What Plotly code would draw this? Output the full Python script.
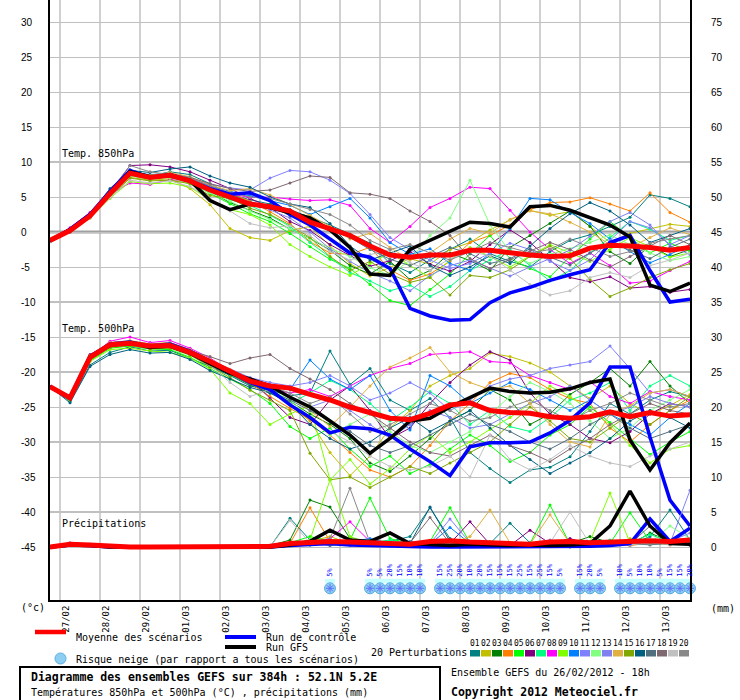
import plotly.graph_objects as go

# --- Data (12h steps) ---
HOURS = [0, 12, 24, 36, 48, 60, 72, 84, 96, 108, 120, 132, 144, 156, 168, 180, 192,
         204, 216, 228, 240, 252, 264, 276, 288, 300, 312, 324, 336, 348, 360, 372, 384]

DATES = ['27/02', '28/02', '29/02', '01/03', '02/03', '03/03', '04/03', '05/03',
         '06/03', '07/03', '08/03', '09/03', '10/03', '11/03', '12/03', '13/03']

LEFT_TICKS = [30, 25, 20, 15, 10, 5, 0, -5, -10, -15, -20, -25, -30, -35, -40, -45]
RIGHT_TICKS = [75, 70, 65, 60, 55, 50, 45, 40, 35, 30, 25, 20, 15, 10, 5, 0]

PERT_COLORS = ['#008080', '#c0c000', '#008000', '#ff8000', '#00ff00', '#800080', '#00ff80',
               '#ff00ff', '#80ff00', '#0080ff', '#8080ff', '#80ff80', '#8080f0', '#e0b040',
               '#80a800', '#006080', '#507080', '#806870', '#c0c0c0', '#888888']

T850_MEAN = [-1.2, 0.2, 2.3, 5.5, 8.4, 7.8, 8.1, 7.3, 6.0, 5.0, 4.0, 3.6, 3.0, 1.4, 0.4, -0.5, -2.0,
             -3.3, -3.6, -3.3, -3.3, -2.6, -2.6, -3.0, -3.3, -3.5, -3.4, -2.3, -1.9, -2.0, -2.2, -2.6, -2.2]
T850_CTRL = [-1.2, 0.4, 2.5, 5.8, 8.8, 7.8, 8.2, 7.3, 6.2, 5.4, 5.6, 4.5, 2.5, 1.0, -1.0, -3.0, -3.6,
             -5.2, -10.9, -12.0, -12.6, -12.5, -10.1, -8.7, -7.9, -6.9, -6.1, -5.4, -1.5, -0.5, -5.5, -10.0, -9.6]
T850_GFS = [-1.2, 0.3, 2.4, 5.5, 8.6, 7.9, 8.0, 7.4, 4.5, 3.2, 4.0, 3.5, 2.8, 2.0, 0.3, -2.2, -6.0,
            -6.2, -2.5, -1.2, 0.0, 1.4, 1.2, 0.7, 3.6, 3.8, 3.1, 2.0, 1.0, -0.7, -7.6, -8.5, -7.3]

T850_PERT = [
    [-1.3, 0.4, 2.6, 6.0, 8.9, 8.0, 8.6, 8.2, 6.9, 5.4, 4.6, 4.0, 3.2, 2.1, 1.0, -0.3, -1.6, -4.5, -5.8, -4.0, -2.5, -1.0, -3.1, -4.2, -5.0, -2.8, -1.2, -0.4, 0.8, 2.1, 5.3, 4.8, 3.6],
    [-1.2, 0.1, 2.0, 5.0, 7.8, 7.4, 7.6, 6.2, 3.9, 0.5, -0.8, -1.2, 0.2, 0.8, -2.0, -4.5, -6.3, -5.0, -3.8, -4.6, -2.5, -1.5, 0.3, 1.7, 3.1, 2.4, 2.9, 0.8, -1.5, -0.2, 0.5, 1.1, 0.8],
    [-1.1, 0.3, 2.4, 5.6, 8.2, 7.7, 8.0, 7.0, 5.8, 4.2, 3.1, 2.0, 0.4, -0.9, -2.6, -4.8, -6.0, -4.2, -6.8, -5.5, -3.0, -4.1, -5.5, -2.2, -0.5, 1.2, 3.0, 0.8, -2.8, -4.5, -1.9, -3.5, -2.5],
    [-1.2, 0.2, 2.3, 5.7, 8.5, 7.9, 8.3, 7.6, 6.3, 5.6, 4.4, 2.9, 1.2, -1.4, -3.0, -3.2, -2.2, -5.4, -6.9, -6.0, -4.2, -1.5, -0.5, 1.0, 3.2, 4.2, 4.3, 4.9, 4.0, 3.0, 5.6, 2.8, 1.4],
    [-1.2, 0.5, 2.7, 5.9, 8.7, 8.1, 8.2, 7.1, 5.5, 4.0, 2.6, 1.5, -0.2, -2.1, -3.9, -5.2, -7.5, -9.8, -10.5, -8.2, -6.0, -3.1, -0.5, -3.8, -5.2, -6.4, -3.5, -1.0, 1.5, -0.8, -3.0, -1.6, -2.8],
    [-1.3, 0.0, 2.1, 5.6, 9.5, 9.6, 9.3, 8.6, 7.4, 6.2, 4.8, 3.5, 1.5, 0.2, -1.8, -3.4, -4.9, -4.1, -2.8, -4.6, -5.6, -4.2, -1.8, 0.3, -1.5, -4.0, -6.5, -7.1, -6.4, -8.0, -7.8, -8.6, -8.2],
    [-1.2, 0.3, 2.5, 5.6, 8.3, 7.6, 8.0, 7.4, 6.0, 4.6, 3.8, 2.4, 0.8, -1.5, -3.6, -5.8, -7.0, -8.4, -7.6, -9.2, -7.8, -5.5, -4.0, -2.5, -4.8, -7.0, -5.5, -3.0, -0.8, 1.5, 0.4, -1.2, -0.5],
    [-1.2, 0.6, 2.8, 5.4, 7.0, 6.8, 7.5, 7.2, 6.6, 5.5, 4.9, 5.0, 4.7, 4.5, 4.6, 3.8, 0.5, -1.5, 0.8, 3.5, 4.8, 6.4, 6.2, 3.1, 0.0, -2.5, -4.5, -3.0, -4.8, -7.3, -7.0, -5.5, -4.2],
    [-1.0, 0.2, 2.0, 4.8, 7.2, 6.9, 7.0, 6.4, 4.6, 3.2, 2.5, 1.0, -1.8, -3.5, -5.0, -6.2, -4.5, -3.0, -4.8, -6.5, -4.0, -2.2, -3.5, -5.0, -3.4, -1.8, -3.0, -4.2, -2.5, -0.8, -2.1, -3.6, -3.0],
    [-1.2, 0.4, 2.4, 5.8, 8.6, 8.2, 8.4, 7.7, 6.5, 5.8, 5.2, 4.5, 3.8, 2.5, 3.6, 4.8, 2.0, -1.5, -3.2, -2.4, -4.5, -5.5, -3.0, 0.5, 4.8, 4.6, 2.8, 1.2, -1.0, -2.8, -4.4, -3.2, -1.8],
    [-1.2, 0.2, 2.2, 5.4, 8.2, 7.7, 7.9, 7.6, 6.8, 6.3, 6.0, 7.7, 8.8, 8.6, 7.4, 5.5, 2.5, -0.8, -2.5, -4.0, -5.2, -4.5, -3.0, -1.6, -2.5, -4.2, -5.5, -4.0, -1.2, 1.5, 0.6, -1.8, -0.5],
    [-1.3, 0.1, 2.2, 5.3, 8.0, 7.5, 7.8, 6.8, 5.6, 4.4, 3.0, 1.8, 0.4, -1.0, -2.3, -3.5, -5.1, -6.2, -4.0, -0.5, 2.0, 7.4, 1.0, -2.8, -4.5, -3.2, -2.4, -1.5, -0.4, -1.8, -3.0, -4.1, -3.5],
    [-1.2, 0.3, 2.5, 5.7, 8.5, 8.0, 8.1, 7.5, 6.3, 5.1, 4.3, 3.2, 2.0, 0.0, -2.4, -4.2, -5.8, -7.0, -8.4, -6.2, -4.8, -4.0, -5.2, -6.3, -5.0, -3.8, -2.6, -0.6, 1.5, 2.8, 1.0, -2.0, -3.2],
    [-1.2, 0.3, 2.4, 5.6, 8.6, 8.1, 8.5, 7.9, 6.7, 5.9, 6.2, 5.3, 3.9, 2.4, 0.8, -1.0, -0.2, -2.2, -4.0, -3.0, -1.0, 0.5, -0.2, 1.8, 3.0, 2.6, 1.4, 0.0, -1.8, -2.2, -0.8, 0.6, -0.4],
    [-1.2, 0.2, 2.1, 5.0, 7.7, 7.3, 7.4, 6.9, 5.2, 4.8, 3.4, 2.5, 1.0, -0.8, -3.5, -5.5, -4.2, -6.0, -7.2, -6.5, -9.0, -6.2, -6.5, -5.4, -3.5, -2.0, -3.8, -6.8, -9.2, -8.0, -6.5, -5.4, -4.5],
    [-1.2, 0.4, 2.6, 6.2, 8.8, 8.5, 9.0, 9.3, 8.0, 7.0, 6.4, 5.0, 4.0, 3.5, 1.2, -2.0, -4.0, -3.0, -2.0, -4.8, -6.2, -5.0, -3.4, -4.5, -2.0, 0.5, 2.6, 4.2, 3.0, 1.0, -1.5, -0.5, 0.5],
    [-1.2, 0.2, 2.3, 5.5, 8.3, 7.9, 8.2, 7.3, 6.2, 5.5, 4.2, 3.8, 2.3, 1.9, 0.5, -0.8, -2.5, -3.9, -4.8, -3.5, -2.2, -3.1, -4.5, -3.8, -2.4, -3.6, -4.7, -3.0, -1.5, -2.6, -3.8, -2.2, -1.0],
    [-1.2, 0.2, 2.3, 5.5, 8.4, 8.0, 8.3, 7.8, 6.9, 6.2, 5.8, 6.0, 7.0, 8.0, 7.8, 5.6, 5.4, 4.8, 3.0, 1.5, -0.5, -3.8, -5.2, -4.0, -2.8, -1.5, -2.5, -4.0, -5.0, -3.5, -2.0, -0.5, -1.8],
    [-1.2, 0.1, 2.0, 4.9, 7.4, 7.0, 7.3, 6.5, 4.8, 3.0, 1.2, 0.6, 0.9, -0.5, -2.8, -4.0, -3.2, -2.5, -4.4, -5.5, -3.8, -2.8, -3.4, -5.5, -7.5, -9.0, -8.4, -6.5, -5.8, -6.5, -4.8, -4.0, -3.0],
    [-1.4, 0.0, 2.4, 5.8, 9.5, 8.6, 8.2, 7.7, 6.6, 5.6, 5.0, 4.8, 4.0, 3.2, 2.5, 1.0, -1.2, -2.5, -1.8, -3.0, -4.0, -2.8, -1.5, -2.2, -3.0, -2.5, -1.0, -2.2, -3.5, -2.8, -1.6, -1.0, -0.5],
]

T500_MEAN = [-22.1, -23.7, -17.9, -16.1, -15.9, -16.3, -16.2, -17.2, -18.5, -20.0, -21.3, -22.0, -22.3, -23.2, -24.0, -25.0, -25.8,
             -26.6, -26.8, -25.9, -24.7, -24.4, -25.5, -25.8, -25.9, -26.4, -26.6, -26.4, -25.7, -26.4, -25.8, -26.3, -26.1]
T500_CTRL = [-22.1, -23.8, -17.8, -16.0, -15.7, -16.3, -16.0, -17.0, -18.5, -20.0, -21.5, -22.5, -24.7, -26.5, -28.7, -27.9, -28.1,
             -29.0, -31.0, -32.8, -34.8, -30.7, -30.1, -30.1, -30.0, -28.7, -26.9, -24.4, -19.3, -19.3, -29.3, -38.3, -42.0]
T500_GFS = [-22.1, -23.6, -17.8, -16.2, -15.8, -16.5, -16.3, -17.3, -18.8, -20.2, -21.0, -22.0, -23.6, -25.0, -27.0, -29.0, -31.6,
            -29.5, -27.0, -26.6, -25.0, -23.6, -22.3, -22.8, -23.0, -22.9, -22.4, -21.5, -21.0, -29.7, -34.0, -30.1, -27.3]

T500_PERT = [
    [-22.1, -24.2, -19.0, -17.2, -16.4, -17.0, -16.9, -18.0, -19.2, -20.5, -22.0, -22.6, -23.4, -23.0, -17.0, -21.8, -19.5, -24.0, -25.5, -23.8, -26.5, -31.5, -33.8, -35.8, -34.0, -33.6, -32.1, -28.5, -24.5, -26.0, -24.0, -22.8, -23.5],
    [-22.1, -23.5, -17.6, -15.8, -15.6, -16.0, -15.8, -16.8, -18.2, -19.8, -21.2, -22.5, -24.8, -27.0, -31.5, -34.8, -32.0, -28.0, -25.5, -22.0, -20.5, -19.5, -17.3, -17.8, -18.7, -20.0, -22.0, -23.8, -22.0, -24.5, -26.0, -24.8, -23.2],
    [-22.1, -23.9, -18.2, -16.4, -16.1, -16.6, -16.5, -17.5, -18.9, -20.4, -21.8, -23.0, -24.2, -26.0, -27.5, -29.5, -33.0, -34.2, -32.0, -29.5, -27.0, -25.5, -22.5, -24.0, -27.5, -26.0, -23.2, -21.5, -19.5, -22.0, -18.5, -22.0, -24.5],
    [-22.1, -23.6, -17.8, -16.0, -15.8, -16.2, -16.1, -17.1, -18.6, -20.2, -21.6, -23.5, -25.2, -26.8, -29.0, -31.5, -34.0, -35.0, -33.5, -30.5, -27.0, -24.5, -21.5, -20.2, -20.8, -22.5, -23.8, -24.5, -28.0, -30.0, -27.5, -25.5, -24.0],
    [-22.1, -24.0, -18.4, -16.6, -16.3, -16.7, -16.8, -17.9, -19.5, -21.0, -22.5, -24.5, -27.8, -29.5, -28.0, -31.0, -33.5, -32.0, -34.5, -33.2, -31.0, -29.0, -30.5, -32.8, -31.5, -29.0, -27.5, -25.0, -27.2, -29.5, -31.8, -30.0, -28.5],
    [-22.1, -23.4, -17.5, -15.9, -15.7, -16.2, -16.0, -17.0, -18.4, -20.0, -21.0, -23.8, -26.5, -27.5, -24.0, -22.0, -25.5, -29.5, -28.0, -24.5, -21.5, -19.0, -17.1, -18.3, -23.0, -26.0, -27.5, -29.5, -30.1, -28.5, -26.0, -24.5, -25.0],
    [-22.1, -23.8, -18.0, -16.3, -16.1, -16.5, -16.4, -17.4, -18.8, -20.4, -21.5, -22.8, -24.5, -23.0, -21.2, -22.5, -24.5, -27.0, -25.0, -22.8, -24.5, -27.5, -25.5, -27.8, -28.5, -26.5, -24.0, -23.0, -21.5, -25.5, -22.0, -20.5, -22.0],
    [-22.1, -23.7, -17.9, -15.6, -15.0, -15.8, -15.5, -16.6, -18.0, -19.8, -21.2, -22.4, -23.0, -22.5, -23.5, -22.0, -20.5, -19.5, -18.8, -17.5, -17.3, -17.1, -18.5, -18.7, -20.5, -21.5, -22.5, -21.4, -23.5, -24.5, -22.8, -23.5, -24.0],
    [-22.1, -24.1, -18.5, -16.8, -16.6, -17.0, -17.2, -18.0, -19.6, -23.0, -24.5, -27.5, -26.0, -24.8, -35.4, -32.5, -36.0, -33.8, -31.0, -29.0, -31.5, -30.0, -28.2, -26.5, -24.5, -22.0, -23.5, -25.5, -27.5, -30.5, -33.0, -31.0, -30.5],
    [-22.1, -23.6, -17.7, -15.9, -15.6, -16.0, -15.9, -16.9, -18.3, -19.8, -21.0, -21.8, -22.5, -18.3, -21.0, -22.5, -20.5, -25.5, -28.3, -20.5, -22.0, -24.5, -23.0, -21.5, -22.5, -24.0, -25.5, -24.0, -26.0, -27.5, -29.0, -26.5, -24.5],
    [-22.1, -23.7, -17.9, -16.0, -15.7, -16.1, -16.0, -17.0, -18.3, -19.6, -20.8, -21.5, -22.0, -21.5, -20.5, -22.0, -24.0, -23.0, -21.5, -23.0, -25.5, -24.0, -22.0, -21.0, -20.5, -19.5, -19.0, -18.5, -16.3, -19.5, -23.0, -22.5, -23.5],
    [-22.1, -23.8, -18.1, -16.2, -16.0, -16.4, -16.3, -17.3, -18.7, -20.2, -21.5, -22.5, -24.0, -26.5, -29.0, -27.5, -26.0, -28.5, -30.5, -31.5, -30.0, -28.5, -26.0, -23.5, -21.5, -22.8, -24.5, -27.0, -29.5, -28.0, -25.5, -24.0, -22.5],
    [-22.1, -23.6, -17.8, -16.1, -15.9, -16.3, -16.2, -17.2, -18.6, -20.1, -21.4, -22.3, -23.5, -25.0, -24.0, -25.5, -27.5, -29.5, -27.5, -25.5, -26.5, -28.0, -27.5, -26.0, -24.5, -23.5, -22.0, -24.0, -26.0, -25.0, -23.5, -24.5, -25.0],
    [-22.1, -23.5, -17.6, -15.8, -15.5, -16.0, -15.8, -16.8, -18.2, -19.6, -21.0, -22.0, -23.5, -25.5, -27.8, -25.0, -22.0, -19.3, -18.0, -16.5, -20.0, -21.5, -22.5, -22.0, -24.5, -27.5, -30.0, -30.7, -26.0, -24.8, -23.0, -22.5, -23.5],
    [-22.1, -23.9, -18.3, -16.5, -16.2, -16.7, -16.6, -17.6, -19.2, -20.8, -22.6, -24.0, -25.5, -31.6, -35.4, -35.0, -36.5, -35.0, -33.5, -34.5, -33.0, -31.5, -30.0, -27.5, -25.0, -27.0, -29.5, -30.0, -28.0, -26.0, -27.5, -25.5, -23.5],
    [-22.1, -24.4, -19.2, -17.5, -16.8, -17.3, -17.2, -18.2, -19.8, -21.0, -22.2, -23.0, -24.5, -27.5, -29.5, -31.0, -30.0, -28.0, -26.5, -28.5, -27.0, -25.5, -28.0, -30.5, -32.5, -34.5, -33.0, -31.5, -29.5, -27.0, -25.5, -26.5, -28.0],
    [-22.1, -23.8, -18.0, -16.3, -16.0, -16.5, -16.4, -17.4, -18.9, -20.3, -21.7, -22.8, -24.0, -25.5, -27.0, -28.5, -30.5, -31.5, -30.5, -29.0, -27.5, -26.0, -27.5, -28.5, -30.0, -31.0, -29.5, -27.5, -26.0, -28.0, -29.5, -28.5, -27.5],
    [-22.1, -23.7, -17.9, -16.1, -15.9, -16.3, -16.2, -17.0, -17.8, -18.8, -18.0, -17.5, -19.5, -21.0, -22.5, -24.5, -26.0, -28.0, -30.0, -31.5, -32.0, -30.5, -29.0, -30.5, -31.5, -32.8, -31.0, -29.5, -27.5, -26.0, -24.5, -25.5, -26.0],
    [-22.1, -23.6, -17.8, -16.0, -15.8, -16.2, -16.1, -17.2, -19.0, -21.5, -23.5, -22.5, -24.5, -26.5, -28.5, -30.0, -32.0, -33.5, -34.0, -33.5, -32.0, -35.0, -29.0, -32.5, -34.0, -32.5, -30.5, -32.0, -33.0, -33.5, -32.0, -31.0, -30.0],
    [-22.1, -23.7, -17.9, -16.0, -15.7, -16.1, -16.0, -17.0, -18.3, -19.7, -21.0, -22.0, -23.0, -24.5, -23.5, -26.0, -28.5, -27.5, -26.0, -24.5, -25.5, -27.0, -26.5, -25.0, -24.0, -25.5, -27.0, -25.5, -24.5, -23.0, -24.0, -25.0, -24.5],
]

# precipitation (mm, right axis)
P_MEAN = [0, 0.4, 0.3, 0.1, 0, 0, 0, 0, 0, 0, 0, 0.1, 0.5, 0.6, 0.8, 0.7, 0.6,
          0.5, 0.4, 0.8, 0.9, 0.7, 0.6, 0.5, 0.4, 0.7, 0.8, 0.6, 0.7, 0.8, 0.9, 0.8, 1.0]
P_CTRL = [0, 0.3, 0.2, 0, 0, 0, 0, 0, 0, 0, 0, 0, 0.2, 0.4, 0.5, 0.3, 0.2,
          0.1, 0, 0, 0, 0, 0, 0, 0, 0, 0, 0.1, 0.2, 0.5, 4.0, 0.8, 2.7]
P_GFS = [0, 0.3, 0.2, 0, 0, 0, 0, 0, 0, 0, 0, 0, 0.3, 0.8, 2.4, 1.0, 0.8,
         2.0, 0.5, 0.3, 0.2, 0.4, 0.3, 0.2, 0.3, 0.2, 0.3, 0.5, 3.0, 8.0, 3.0, 0.5, 0.4]

P_PERT = [
    [0, 0.5, 0.3, 0, 0, 0, 0, 0, 0, 0, 0, 0, 4.1, 1.0, 0.2, 0.5, 0.3, 0.8, 1.5, 5.6, 1.2, 0.3, 0.5, 3.4, 0.6, 0.2, 0, 0.4, 0.8, 0.3, 1.5, 5.3, 1.0],
    [0, 0.4, 0.2, 0, 0, 0, 0, 0, 0, 0, 0, 0, 0.3, 0.8, 1.5, 0.5, 0.2, 0.3, 0.6, 0.2, 0.4, 0.8, 0.3, 0.2, 0.5, 0.3, 0.6, 0.2, 0.4, 1.2, 0.5, 0.8, 0.3],
    [0, 0.3, 0.2, 0, 0, 0, 0, 0, 0, 0, 0, 0.2, 1.0, 6.7, 5.7, 1.2, 0.5, 0.3, 0.8, 0.5, 0.3, 0.2, 0.6, 0.4, 0.3, 0.9, 0.5, 1.5, 0.6, 0.3, 2.0, 0.8, 0.5],
    [0, 0.4, 0.3, 0, 0, 0, 0, 0, 0, 0, 0, 0, 0.5, 5.6, 0.8, 0.3, 0.2, 0.4, 0.3, 0.6, 0.2, 0.5, 0.3, 0.4, 0.2, 0.3, 0.5, 0.3, 0.4, 0.2, 0.6, 0.3, 0.8],
    [0, 0.5, 0.2, 0, 0, 0, 0, 0, 0, 0, 0, 0, 0.6, 1.5, 0.8, 1.0, 7.0, 1.2, 0.5, 0.8, 5.6, 0.6, 0.4, 0.3, 0.5, 6.0, 0.4, 0.6, 0.5, 4.9, 0.8, 0.4, 0.6],
    [0, 0.3, 0.2, 0, 0, 0, 0, 0, 0, 0, 0, 0, 0.2, 0.4, 0.3, 0.6, 0.2, 0.4, 0.3, 0.2, 0.5, 3.6, 0.4, 0.2, 2.4, 0.5, 1.2, 0.4, 0.6, 0.3, 0.8, 0.5, 0.3],
    [0, 0.4, 0.3, 0, 0, 0, 0, 0, 0, 0, 0, 0, 0.5, 0.8, 0.4, 0.3, 0.6, 1.0, 0.4, 0.3, 0.8, 0.5, 0.6, 0.3, 0.4, 0.6, 0.8, 0.5, 1.0, 0.6, 1.8, 0.7, 0.5],
    [0, 0.6, 0.4, 0, 0, 0, 0, 0, 0, 0, 0, 0, 0.3, 0.6, 1.2, 3.6, 0.8, 0.4, 0.3, 0.5, 0.3, 0.6, 0.4, 0.3, 0.5, 0.2, 0.4, 0.3, 0.5, 0.3, 0.6, 0.4, 0.3],
    [0, 0.3, 0.2, 0, 0, 0, 0, 0, 0, 0, 0, 0, 0.4, 1.0, 9.6, 1.5, 0.5, 0.3, 0.6, 0.4, 0.3, 0.5, 0.8, 0.4, 0.3, 0.5, 0.6, 0.8, 7.7, 0.6, 0.4, 0.8, 0.5],
    [0, 0.5, 0.3, 0, 0, 0, 0, 0, 0, 0, 0, 0, 0.3, 0.6, 0.4, 0.8, 1.2, 0.5, 0.6, 0.4, 2.8, 0.5, 0.6, 0.3, 0.4, 0.8, 0.5, 0.6, 0.3, 0.5, 0.7, 0.4, 0.6],
    [0, 0.4, 0.2, 0, 0, 0, 0, 0, 0, 0, 0, 0, 0.2, 0.4, 0.3, 0.5, 0.4, 0.6, 0.8, 0.5, 4.0, 0.6, 0.4, 0.3, 0.5, 1.0, 0.4, 0.3, 0.5, 0.4, 0.6, 0.5, 8.1],
    [0, 0.3, 0.2, 0, 0, 0, 0, 0, 0, 0, 0, 0, 0.4, 0.6, 0.8, 0.5, 0.3, 0.6, 0.4, 0.8, 0.5, 0.3, 0.6, 0.5, 0.4, 0.3, 0.8, 0.6, 0.5, 0.8, 0.6, 3.0, 1.2],
    [0, 0.5, 0.3, 0, 0, 0, 0, 0, 0, 0, 0, 0, 0.3, 0.5, 0.4, 0.3, 0.5, 0.3, 0.4, 0.6, 0.3, 0.5, 0.4, 0.6, 0.3, 0.5, 0.4, 0.3, 0.6, 0.4, 0.5, 0.8, 2.0],
    [0, 0.4, 0.3, 0, 0, 0, 0, 0, 0, 0, 0, 0, 0.5, 0.4, 0.6, 0.3, 0.5, 0.4, 0.6, 0.3, 0.5, 1.5, 5.3, 0.6, 0.4, 4.6, 0.5, 0.3, 0.4, 0.6, 0.8, 0.5, 0.4],
    [0, 0.3, 0.2, 0, 0, 0, 0, 0, 0, 0, 0, 0, 0.3, 0.5, 0.8, 0.4, 0.6, 0.3, 0.5, 0.4, 0.3, 0.6, 0.5, 0.4, 0.3, 0.5, 0.6, 0.4, 0.5, 0.3, 0.6, 0.5, 0.4],
    [0, 0.4, 0.2, 0, 0, 0, 0, 0, 0, 0, 0, 0, 0.4, 0.3, 0.5, 0.6, 0.4, 0.3, 0.5, 5.7, 0.8, 0.5, 0.4, 0.6, 0.3, 0.5, 0.4, 0.3, 0.5, 0.6, 0.4, 0.5, 0.3],
    [0, 0.3, 0.2, 0, 0, 0, 0, 0, 0, 0, 0, 0, 0.5, 0.4, 0.3, 0.5, 0.6, 0.4, 0.3, 0.5, 0.4, 0.6, 0.3, 0.5, 0.4, 0.6, 0.5, 0.3, 0.4, 0.5, 0.3, 0.6, 0.4],
    [0, 0.4, 0.3, 0, 0, 0, 0, 0, 0, 0, 0, 0, 0.3, 0.5, 0.4, 0.6, 0.5, 0.3, 0.6, 4.2, 0.5, 0.4, 0.6, 0.3, 0.5, 0.4, 0.3, 0.6, 0.5, 0.4, 3.0, 0.5, 0.6],
    [0, 0.6, 0.4, 0, 0, 0, 0, 0, 0, 0, 0, 0, 3.8, 0.6, 0.5, 0.4, 0.3, 0.6, 0.4, 0.5, 0.3, 0.6, 0.4, 0.5, 0.3, 0.6, 5.0, 0.4, 0.5, 0.3, 0.6, 0.4, 0.5],
    [0, 0.4, 0.2, 0, 0, 0, 0, 0, 0, 0, 0, 0, 0.6, 0.8, 1.2, 8.4, 0.6, 0.4, 0.5, 0.6, 0.4, 0.5, 0.3, 0.6, 0.4, 0.5, 0.6, 0.4, 0.3, 0.5, 0.4, 0.6, 0.5],
]

# snow risk (% of members), 6h steps
SNOW_HOURS = [168, 192, 198, 204, 210, 216, 222,
              234, 240, 246, 252, 258, 264, 270, 276, 282, 288, 294, 300, 306,
              318, 324, 330,
              342, 348, 354, 360, 366, 372, 378, 384]
SNOW_PCT = [5, 5, 5, 20, 15, 10, 10,
            15, 25, 20, 10, 20, 15, 15, 15, 25, 15, 25, 15, 5,
            15, 20, 5,
            10, 5, 10, 10, 5, 15, 15, 20]

# --- Geometry helpers (pixel -> paper) ---
W, H = 740, 700
ML, MR, MT, MB = 50, 50, 0, 100
MONO = 'DejaVu Sans Mono'
SANS = 'Liberation Sans'


def xp(px):
    return (px - ML) / (W - ML - MR)


def yp(py):
    return (H - MB - py) / (H - MT - MB)


Y_RANGE = [(232 - 600) / 7, 232 / 7]     # 7 px per degree, 0 deg at y=232
P_OFFSET = 45                              # 0 mm sits on -45 deg

fig = go.Figure()

for i, col in enumerate(PERT_COLORS):
    for series, axis in ((T850_PERT[i], 'y'), (T500_PERT[i], 'y'), (P_PERT[i], 'y2')):
        fig.add_trace(go.Scatter(x=HOURS, y=series, yaxis=axis, mode='lines+markers',
                                 line=dict(color=col, width=1), marker=dict(color=col, size=3),
                                 hoverinfo='skip', showlegend=False))

for series, axis, col, wd in ((T850_CTRL, 'y', '#0000ff', 3.5), (T500_CTRL, 'y', '#0000ff', 3.5),
                              (P_CTRL, 'y2', '#0000ff', 3.5),
                              (T850_GFS, 'y', '#000000', 3.5), (T500_GFS, 'y', '#000000', 3.5),
                              (P_GFS, 'y2', '#000000', 3.5),
                              (T850_MEAN, 'y', '#ff0000', 5), (T500_MEAN, 'y', '#ff0000', 5),
                              (P_MEAN, 'y2', '#ff0000', 5)):
    fig.add_trace(go.Scatter(x=HOURS, y=series, yaxis=axis, mode='lines',
                             line=dict(color=col, width=wd), hoverinfo='skip', showlegend=False))

shapes = []
# day grid
for i in range(len(DATES)):
    shapes.append(dict(type='line', xref='x', yref='paper', x0=6 + 24 * i, x1=6 + 24 * i, y0=0, y1=1,
                       line=dict(color='#c0c0c0', width=1.5), layer='below'))
# heavier horizontal lines
for v in [10, -10, -20, -30, -40]:
    shapes.append(dict(type='line', xref='paper', yref='y', x0=0, x1=1, y0=v, y1=v,
                       line=dict(color='#c0c0c0', width=2.2), layer='below'))
shapes.append(dict(type='line', xref='paper', yref='y', x0=0, x1=1, y0=0, y1=0,
                   line=dict(color='#a0a0a0', width=3), layer='below'))

# snow band behind consecutive icons
groups = []
for h in SNOW_HOURS:
    if groups and h - groups[-1][1] == 6:
        groups[-1][1] = h
    else:
        groups.append([h, h])
for g0, g1 in groups:
    shapes.append(dict(type='rect', xref='x', yref='y', x0=g0 - 3, x1=g1 + 3, y0=-50.15, y1=-49.55,
                       fillcolor='#c8ffff', line=dict(width=0), layer='below'))

fig.add_trace(go.Scatter(x=SNOW_HOURS, y=[-50.9] * len(SNOW_HOURS), mode='markers',
                         marker=dict(symbol='circle', size=11, color='#8ccff2',
                                     line=dict(color='#5aaee0', width=1)),
                         hoverinfo='skip', showlegend=False, cliponaxis=False))
fig.add_trace(go.Scatter(x=SNOW_HOURS, y=[-50.9] * len(SNOW_HOURS), mode='markers',
                         marker=dict(symbol='asterisk-open', size=7, line=dict(color='#e8f8ff', width=1)),
                         hoverinfo='skip', showlegend=False, cliponaxis=False))

ann = []
for h, pct in zip(SNOW_HOURS, SNOW_PCT):
    ann.append(dict(x=h, y=-49.6, xref='x', yref='y', text=f'{pct}%', textangle=-90, showarrow=False,
                    xanchor='center', yanchor='bottom', font=dict(family=MONO, size=7, color='#0000ff')))

for v in LEFT_TICKS:
    ann.append(dict(x=xp(19), y=v, xref='paper', yref='y', text=str(v), showarrow=False,
                    xanchor='left', yanchor='middle', font=dict(family=SANS, size=10, color='#000000')))


def label(px, py, text, size=10, anchor='left', color='#000000'):
    ann.append(dict(x=xp(px), y=yp(py), xref='paper', yref='paper', text=text, showarrow=False,
                    xanchor=anchor, yanchor='middle', font=dict(family=MONO, size=size, color=color)))


label(60, 153, 'Temp. 850hPa')
label(60, 328, 'Temp. 500hPa')
label(60, 523, 'Précipitations')
label(19, 607, '(°c)')
label(709, 608, '(mm)')

# legend
shapes.append(dict(type='line', xref='paper', yref='paper', x0=xp(35), x1=xp(66), y0=yp(632), y1=yp(632),
                   line=dict(color='#ff0000', width=4.5)))
label(74, 637, 'Moyenne des scénarios')
shapes.append(dict(type='line', xref='paper', yref='paper', x0=xp(225), x1=xp(256), y0=yp(637), y1=yp(637),
                   line=dict(color='#0000ff', width=4)))
label(264, 637, 'Run de contrôle')
shapes.append(dict(type='line', xref='paper', yref='paper', x0=xp(225), x1=xp(256), y0=yp(647), y1=yp(647),
                   line=dict(color='#000000', width=4)))
label(264, 647, 'Run GFS')
shapes.append(dict(type='circle', xref='paper', yref='paper', x0=xp(55), x1=xp(66), y0=yp(664), y1=yp(653),
                   fillcolor='#8ccff2', line=dict(color='#5aaee0', width=1)))
label(74, 659, 'Risque neige (par rapport a tous les scénarios)')

label(369, 652, '20 Perturbations')
for i, col in enumerate(PERT_COLORS):
    x0 = 470 + 11 * i
    shapes.append(dict(type='rect', xref='paper', yref='paper', x0=xp(x0), x1=xp(x0 + 10),
                       y0=yp(656.5), y1=yp(650), fillcolor=col, line=dict(width=0)))
    label(x0 + 5, 643, f'{i + 1:02d}', size=8, anchor='center')

# bottom boxes
shapes.append(dict(type='rect', xref='paper', yref='paper', x0=xp(20), x1=xp(440), y0=yp(701), y1=yp(667),
                   line=dict(color='#000000', width=2)))
label(29, 677, '<b>Diagramme des ensembles GEFS sur 384h : 52.1N 5.2E</b>', size=11.5)
label(29, 692, 'Températures 850hPa et 500hPa (°C) , précipitations (mm)')
label(449, 672, 'Ensemble GEFS du 26/02/2012 - 18h')
label(449, 692, '<b>Copyright 2012 Meteociel.fr</b>', size=11.5)

fig.update_layout(
    width=W, height=H,
    margin=dict(l=ML, r=MR, t=MT, b=MB, pad=0),
    paper_bgcolor='white', plot_bgcolor='white',
    showlegend=False,
    shapes=shapes, annotations=ann,
    xaxis=dict(range=[0, 384], showgrid=False, zeroline=False, showline=True, linecolor='black',
               linewidth=2, ticks='', tickmode='array',
               tickvals=[6 + 24 * i + 3.6 for i in range(len(DATES))], ticktext=DATES,
               tickangle=-90, tickfont=dict(family=MONO, size=9, color='black'), fixedrange=True),
    yaxis=dict(range=Y_RANGE, tickmode='array', tickvals=LEFT_TICKS, showticklabels=False,
               showgrid=True, gridcolor='#c0c0c0', gridwidth=1, zeroline=False,
               showline=True, linecolor='black', linewidth=2, ticks='', fixedrange=True),
    yaxis2=dict(range=[Y_RANGE[0] + P_OFFSET, Y_RANGE[1] + P_OFFSET], overlaying='y', side='right',
                tickmode='array', tickvals=RIGHT_TICKS, showgrid=False, zeroline=False,
                showline=True, linecolor='black', linewidth=2, ticks='', ticklabelstandoff=17,
                tickfont=dict(family=SANS, size=10, color='black'), fixedrange=True),
)

fig.write_html("out.html", config={'displayModeBar': False},
               post_script="document.body.style.margin='0';")
